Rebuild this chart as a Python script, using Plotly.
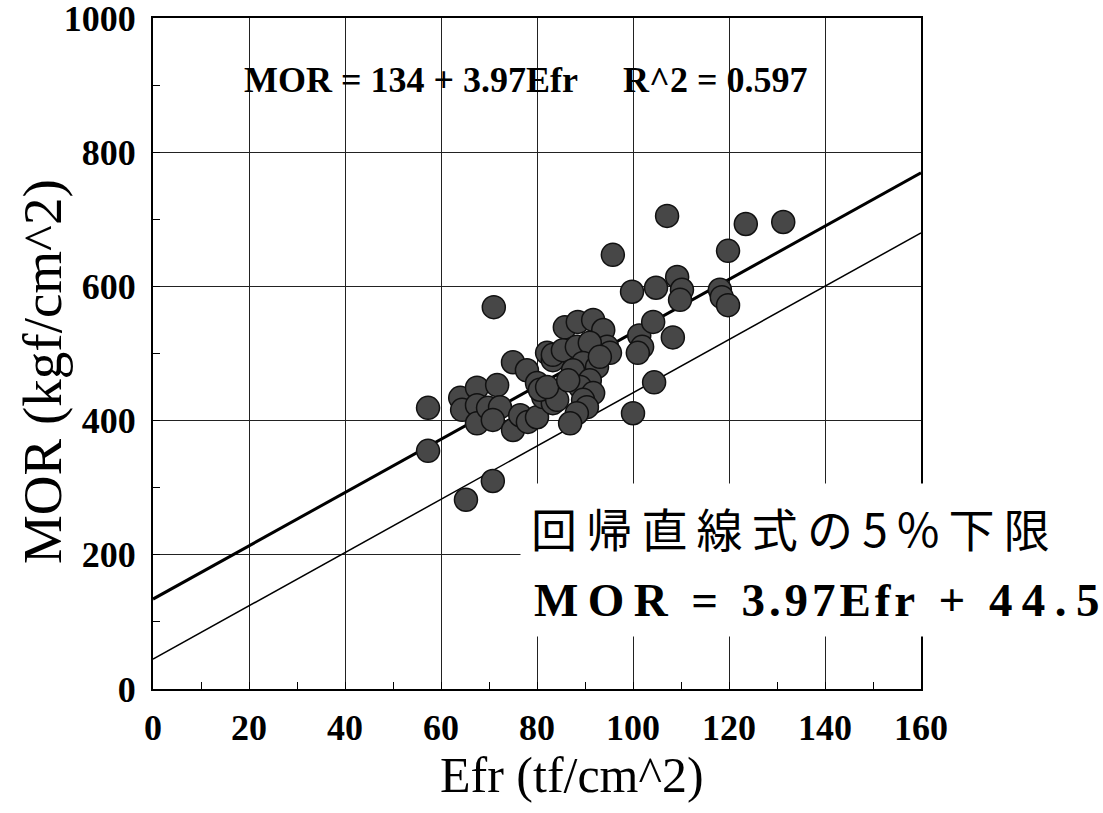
import plotly.graph_objects as go

# Efr (tf/cm^2) and MOR (kgf/cm^2) for each specimen
efr = [57.3, 57.3, 64.0, 64.4, 67.5, 67.5, 67.5, 69.8, 71.7, 72.3, 70.8, 65.2, 70.8, 71.0,
       75.0, 75.0, 76.5, 77.9, 78.1, 80.0, 80.0, 81.3, 82.1, 83.3, 83.3, 80.6,
       85.8, 88.5, 91.7, 93.8, 94.6, 95.2, 83.3, 85.4, 88.3, 91.0, 89.6, 92.5, 87.5,
       91.0, 89.0, 91.7, 89.6, 90.4, 88.3, 86.9, 84.2, 82.1, 86.5, 93.1,
       95.8, 99.8, 104.8, 109.2, 110.2, 109.8, 101.3, 101.9, 101.0, 104.2, 108.3,
       104.4, 100.0, 107.1, 123.5, 131.3, 119.8, 118.1, 118.5, 119.8]
mor = [419, 355, 434, 416, 449, 423, 396, 419, 453, 420, 401, 282, 310, 569,
       487, 386, 408, 475, 398, 456, 405, 435, 501, 490, 426, 446,
       539, 547, 550, 535, 510, 501, 498, 505, 510, 516, 486, 480, 475,
       460, 450, 441, 431, 420, 411, 396, 431, 450, 460, 495,
       647, 592, 598, 614, 595, 580, 527, 510, 501, 547, 524,
       457, 411, 705, 693, 696, 653, 595, 584, 572]

# Regression line and its 5% lower limit
slope = 3.97
intercept = 134
lower_intercept = 44.5
r_squared = 0.597
line_x = [0, 160]

x_ticks = [0, 20, 40, 60, 80, 100, 120, 140, 160]
y_ticks = [0, 200, 400, 600, 800, 1000]

serif = "Liberation Serif"

fig = go.Figure()
fig.add_trace(go.Scatter(
    x=line_x, y=[intercept + slope * v for v in line_x],
    mode="lines", line=dict(color="black", width=3), hoverinfo="skip"))
fig.add_trace(go.Scatter(
    x=line_x, y=[lower_intercept + slope * v for v in line_x],
    mode="lines", line=dict(color="black", width=1.5), hoverinfo="skip"))
fig.add_trace(go.Scatter(
    x=efr, y=mor, mode="markers",
    marker=dict(size=23, color="#474747", line=dict(color="#111111", width=1.5))))

axis_common = dict(
    showline=True, linecolor="black", linewidth=2, mirror=True,
    showgrid=True, gridcolor="#222222", gridwidth=1,
    zeroline=False, ticks="inside", ticklen=6, tickcolor="black",
    ticklabeloverflow="allow", automargin=False,
    tickfont=dict(family=serif, size=36, color="black", weight="bold"),
)

fig.update_xaxes(
    range=[0, 160], tickvals=x_ticks,
    minor=dict(dtick=10, tick0=0, ticks="inside", ticklen=7, tickcolor="black", showgrid=False),
    ticklabelstandoff=6,
    **axis_common)
fig.update_yaxes(
    range=[0, 1000], tickvals=y_ticks,
    minor=dict(dtick=100, tick0=0, ticks="inside", ticklen=7, tickcolor="black", showgrid=False),
    ticklabelstandoff=8,
    **axis_common)

# Axis titles
fig.add_annotation(
    xref="paper", yref="paper", x=-0.1445, y=0.4724, textangle=-90,
    xanchor="center", yanchor="middle",
    showarrow=False, text="MOR (kgf/cm^2)",
    font=dict(family=serif, size=55, color="black"))
fig.add_annotation(
    xref="paper", yref="paper", x=0.5456, y=-0.128,
    xanchor="center", yanchor="middle",
    showarrow=False, text="Efr (tf/cm^2)",
    font=dict(family=serif, size=50, color="black"))

# Regression equation
fig.add_annotation(
    xref="x", yref="y", x=77.7, y=907, showarrow=False,
    text=(f"MOR = {intercept} + {slope:.2f}Efr" + "&nbsp;" * 5
          + f"R^2 = {r_squared:.3f}"),
    font=dict(family=serif, size=36, color="black", weight="bold"))

# 5% lower limit of the regression line
fig.add_annotation(
    xref="paper", yref="paper", x=0.478, y=0.2414, xanchor="left", yanchor="middle",
    showarrow=False, bgcolor="white", borderpad=10,
    text="\u2009".join("回帰直線式の5%下限"),
    font=dict(family="Noto Sans CJK JP", size=46, color="black"))

thin, hair = "\u2009", "\u200a"
lower_eq = (thin.join("MOR") + "\u2002=\u2002" + hair.join(f"{slope:.2f}Efr")
            + "\u2002+\u2002" + thin.join(f"{lower_intercept}"))
fig.add_annotation(
    xref="paper", yref="paper", x=0.482, y=0.1326, xanchor="left", yanchor="middle",
    showarrow=False, bgcolor="white", borderpad=10,
    text=lower_eq,
    font=dict(family=serif, size=47, color="black", weight="bold"))

fig.update_layout(
    width=1103, height=813,
    margin=dict(l=153, r=182, t=18, b=124),
    paper_bgcolor="white", plot_bgcolor="white",
    showlegend=False,
)

fig.write_html("out.html")
